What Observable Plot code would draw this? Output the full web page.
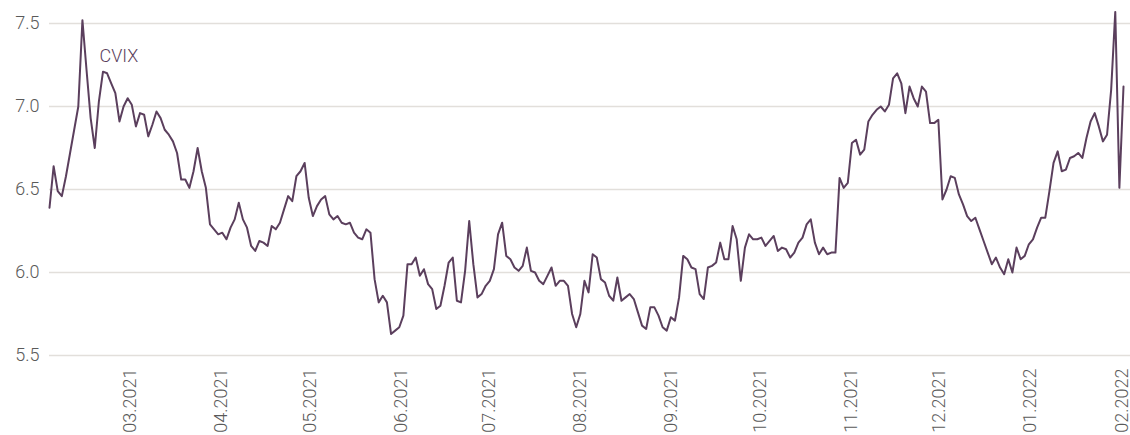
<!DOCTYPE html>
<html>
<head>
<meta charset="utf-8">
<script src="https://cdn.jsdelivr.net/npm/d3@7"></script>
<script src="https://cdn.jsdelivr.net/npm/@observablehq/plot@0.6"></script>
<style>
  html, body { margin: 0; padding: 0; background: #ffffff; }
  #chart svg text { font-weight: 300; }
</style>
</head>
<body>
<div id="chart"></div>
<script>
// Series name
const seriesName = "CVIX";

// Daily (business-day) CVIX readings, Feb 2021 – Feb 2022
const values = [
  6.39, 6.64, 6.49, 6.46, 6.58, 6.72, 6.86, 7.00, 7.52, 7.22,
  6.93, 6.75, 7.03, 7.21, 7.20, 7.14, 7.08, 6.91, 7.00, 7.05,
  7.01, 6.88, 6.96, 6.95, 6.82, 6.89, 6.97, 6.93, 6.86, 6.83,
  6.79, 6.72, 6.56, 6.56,
  6.51, 6.61, 6.75, 6.61, 6.51, 6.29, 6.26, 6.23, 6.24, 6.20,
  6.27, 6.32, 6.42, 6.32, 6.27, 6.16, 6.13, 6.19, 6.18, 6.16,
  6.28, 6.26, 6.30, 6.38, 6.46, 6.43, 6.58, 6.61, 6.66, 6.45,
  6.34, 6.40, 6.44,
  6.46, 6.35, 6.32, 6.34, 6.30, 6.29, 6.30, 6.24, 6.21, 6.20,
  6.26, 6.24, 5.96, 5.82, 5.86, 5.82, 5.63, 5.65, 5.67, 5.74,
  6.05, 6.05, 6.09, 5.98, 6.02, 5.93, 5.90, 5.78, 5.80, 5.92,
  6.06, 6.09,
  5.83, 5.82, 6.01, 6.31, 6.05, 5.85, 5.87, 5.92, 5.95, 6.02,
  6.23, 6.30, 6.10, 6.08, 6.03, 6.01, 6.04, 6.15, 6.01, 6.00,
  5.95, 5.93, 5.98, 6.03, 5.92, 5.95, 5.95, 5.92, 5.75, 5.67,
  5.75, 5.95, 5.88,
  6.11, 6.09, 5.96, 5.94, 5.86, 5.83, 5.97, 5.83, 5.85, 5.87,
  5.84, 5.76, 5.68, 5.66, 5.79, 5.79, 5.74, 5.67, 5.65, 5.73,
  5.71, 5.85, 6.10, 6.08, 6.03, 6.02, 5.87, 5.84, 6.03, 6.04,
  6.06, 6.18, 6.08,
  6.08, 6.28, 6.20, 5.95, 6.15, 6.23, 6.20, 6.20, 6.21, 6.16,
  6.19, 6.22, 6.13, 6.15, 6.14, 6.09, 6.12, 6.18, 6.21, 6.29,
  6.32, 6.18, 6.11, 6.15, 6.11, 6.12, 6.12, 6.57, 6.51, 6.54,
  6.78, 6.80,
  6.71, 6.74, 6.91, 6.95, 6.98, 7.00, 6.97, 7.01, 7.17, 7.20,
  7.14, 6.96, 7.12, 7.05, 7.00, 7.12, 7.09, 6.90, 6.90, 6.92,
  6.44, 6.50, 6.58, 6.57, 6.47, 6.41, 6.34, 6.31, 6.33, 6.26,
  6.19, 6.12, 6.05,
  6.09, 6.03, 5.99, 6.08, 6.00, 6.15, 6.08, 6.10, 6.17, 6.20,
  6.27, 6.33, 6.33, 6.49, 6.66, 6.73, 6.61, 6.62, 6.69, 6.70,
  6.72, 6.69, 6.81, 6.91, 6.96, 6.88, 6.79, 6.83, 7.10, 7.57,
  6.51, 7.12
];

// Time span covered by the series (points are evenly spaced over it)
const startDate = new Date(Date.UTC(2021, 1, 1, 12));
const endDate = new Date(Date.UTC(2022, 1, 1, 14));

// Axis ticks
const yTicks = [5.5, 6.0, 6.5, 7.0, 7.5];
const monthTicks = d3.utcMonth.range(new Date(Date.UTC(2021, 2, 1)), new Date(Date.UTC(2022, 1, 2)));

// Label placement for the series name
const labelDate = new Date(Date.UTC(2021, 1, 18, 12));
const labelValue = 7.30;

const lineColor = "#5b3f5d";
const gridColor = "#e2dfdb";

const step = (endDate - startDate) / (values.length - 1);
const data = values.map((v, i) => ({ date: new Date(+startDate + i * step), value: v }));

const chart = Plot.plot({
  width: 1130,
  height: 435,
  marginLeft: 49,
  marginRight: 7,
  marginTop: 23,
  marginBottom: 80,
  style: { fontFamily: "Roboto, 'Noto Sans', sans-serif", fontSize: "18px", color: "#5a5a5a", background: "#ffffff", overflow: "visible" },
  x: {
    type: "utc",
    domain: [startDate, endDate],
    ticks: monthTicks,
    tickFormat: d3.utcFormat("%m.%Y"),
    tickRotate: -90,
    tickSize: 0,
    tickPadding: 13,
    label: null
  },
  y: {
    domain: [5.5, 7.5],
    ticks: yTicks,
    tickFormat: d3.format(".1f"),
    tickSize: 0,
    tickPadding: 10,
    label: null
  },
  marks: [
    Plot.ruleY(yTicks, { stroke: gridColor, strokeWidth: 1.5, insetRight: -7 }),
    Plot.lineY(data, { x: "date", y: "value", stroke: lineColor, strokeWidth: 2, strokeLinejoin: "round" }),
    Plot.text([seriesName], { x: () => labelDate, y: () => labelValue, text: d => d, textAnchor: "start", fill: lineColor, fontSize: 18 })
  ]
});

document.getElementById("chart").appendChild(chart);
</script>
</body>
</html>
